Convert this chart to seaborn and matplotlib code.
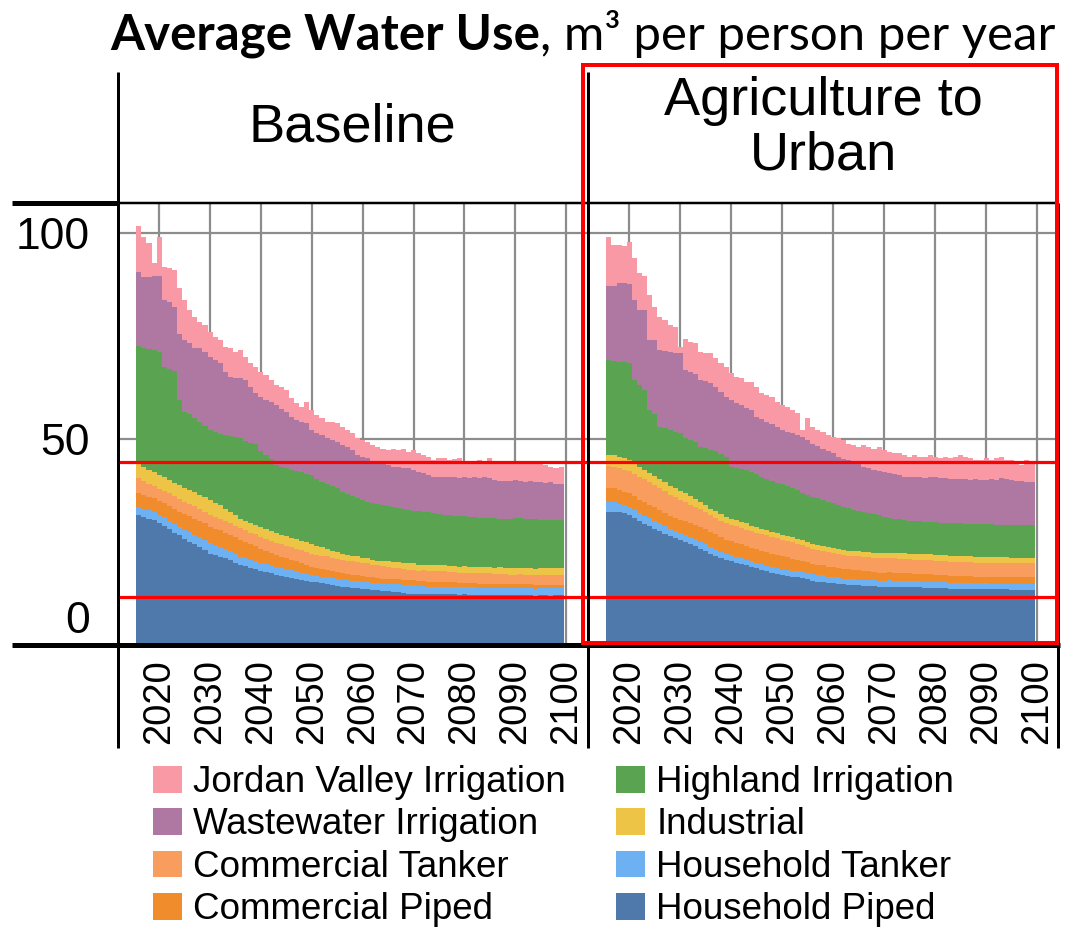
import numpy as np
import pandas as pd
import matplotlib
matplotlib.use("Agg")
import matplotlib.pyplot as plt
import matplotlib.transforms as mtransforms
from matplotlib.patches import Patch, Rectangle
from matplotlib.lines import Line2D
import seaborn as sns

sns.set_theme(style="white")
plt.rcParams['font.family'] = ['Liberation Sans', 'DejaVu Sans']
plt.rcParams['text.color'] = 'black'
plt.rcParams['axes.labelcolor'] = 'black'
plt.rcParams['xtick.color'] = 'black'
plt.rcParams['ytick.color'] = 'black'

# ---------------- data ----------------
years = list(range(2016, 2100))

series_names = ["Household Piped", "Household Tanker", "Commercial Piped",
                "Commercial Tanker", "Industrial", "Highland Irrigation",
                "Wastewater Irrigation", "Jordan Valley Irrigation"]
legend_order = ["Jordan Valley Irrigation", "Wastewater Irrigation",
                "Commercial Tanker", "Commercial Piped",
                "Highland Irrigation", "Industrial",
                "Household Tanker", "Household Piped"]
colors = {
    "Household Piped": "#4E79AA",
    "Household Tanker": "#6EB1F2",
    "Commercial Piped": "#F08C2C",
    "Commercial Tanker": "#F99D5E",
    "Industrial": "#EEC447",
    "Highland Irrigation": "#5AA350",
    "Wastewater Irrigation": "#AE78A2",
    "Jordan Valley Irrigation": "#F999A6",
}
panel_titles = ["Baseline", "Agriculture to\nUrban"]
x_ticks = list(range(2020, 2101, 10))
y_ticks = [0, 50, 100]
red_levels = [44.4, 11.7]

# Baseline scenario (m3 per person per year)
base_household_piped = [
    31.6, 31.0, 30.6, 30.3, 29.6, 28.9, 28.2, 27.3, 26.6, 25.8,
    25.1, 24.4, 23.7, 23.0, 22.2, 21.8, 21.4, 21.0, 20.6, 20.0,
    19.4, 19.1, 18.7, 18.4, 18.0, 17.7, 17.4, 17.0, 16.8, 16.5,
    16.3, 16.1, 15.8, 15.6, 15.4, 15.2, 15.0, 14.8, 14.6, 14.4,
    14.2, 14.1, 13.9, 13.8, 13.6, 13.5, 13.4, 13.3, 13.1, 13.0,
    12.9, 12.8, 12.6, 12.5, 12.5, 12.4, 12.4, 12.3, 12.4, 12.3,
    12.4, 12.3, 12.3, 12.2, 12.3, 12.2, 12.2, 12.2, 12.1, 12.2,
    12.1, 12.2, 12.1, 12.1, 12.1, 12.2, 12.1, 12.1, 12.0, 12.1,
    12.1, 12.0, 12.1, 12.1]
base_household_tanker = [
    2.0, 2.1, 2.1, 2.1, 2.0, 2.1, 2.0, 2.0, 2.1, 2.2,
    2.3, 2.4, 2.4, 2.5, 2.5, 2.4, 2.3, 2.2, 2.1, 2.1,
    2.0, 2.0, 2.0, 2.1, 2.0, 2.0, 2.0, 2.0, 1.9, 1.9,
    1.8, 1.8, 1.7, 1.7, 1.6, 1.6, 1.6, 1.7, 1.6, 1.6,
    1.6, 1.6, 1.7, 1.7, 1.7, 1.8, 1.7, 1.7, 1.8, 1.9,
    1.9, 2.0, 2.0, 2.1, 2.0, 1.9, 1.9, 1.9, 1.8, 1.9,
    1.8, 1.8, 1.8, 1.8, 1.7, 1.8, 1.8, 1.7, 1.8, 1.7,
    1.7, 1.7, 1.8, 1.7, 1.7, 1.7, 1.7, 1.8, 1.7, 1.7,
    1.7, 1.8, 1.7, 1.7]
base_commercial_piped = [
    3.2, 3.2, 3.2, 3.2, 3.3, 3.4, 3.5, 3.7, 3.7, 3.8,
    3.8, 3.9, 3.9, 4.0, 4.0, 4.0, 4.1, 4.1, 4.1, 4.1,
    4.1, 3.9, 3.7, 3.5, 3.3, 3.1, 2.9, 2.8, 2.7, 2.6,
    2.5, 2.4, 2.3, 2.1, 2.0, 1.9, 1.9, 1.8, 1.7, 1.7,
    1.6, 1.5, 1.5, 1.4, 1.4, 1.3, 1.3, 1.2, 1.2, 1.2,
    1.2, 1.2, 1.2, 1.2, 1.2, 1.2, 1.2, 1.2, 1.2, 1.2,
    1.2, 1.1, 1.1, 1.1, 1.1, 1.0, 1.0, 1.0, 1.0, 1.0,
    1.0, 0.9, 0.9, 0.9, 0.9, 0.9, 0.9, 0.8, 0.8, 0.8,
    0.8, 0.8, 0.8, 0.8]
base_commercial_tanker = [
    3.7, 3.5, 3.2, 3.0, 3.0, 3.1, 3.2, 3.2, 3.1, 3.0,
    3.0, 3.0, 2.9, 2.9, 2.9, 2.9, 2.9, 2.8, 2.8, 2.8,
    2.8, 2.8, 2.8, 2.9, 2.9, 2.9, 2.9, 2.9, 3.0, 3.0,
    3.1, 3.1, 3.2, 3.2, 3.2, 3.2, 3.2, 3.2, 3.2, 3.2,
    3.2, 3.2, 3.2, 3.2, 3.2, 3.2, 3.1, 3.1, 3.0, 2.9,
    2.8, 2.7, 2.6, 2.5, 2.5, 2.5, 2.6, 2.6, 2.6, 2.6,
    2.6, 2.6, 2.6, 2.5, 2.5, 2.5, 2.5, 2.5, 2.5, 2.5,
    2.5, 2.5, 2.4, 2.4, 2.4, 2.4, 2.4, 2.4, 2.4, 2.4,
    2.4, 2.4, 2.4, 2.4]
base_industrial = [
    3.6, 3.5, 3.4, 3.3, 3.3, 3.2, 3.2, 3.2, 3.3, 3.4,
    3.4, 3.5, 3.5, 3.6, 3.6, 3.4, 3.2, 3.0, 2.8, 2.5,
    2.2, 2.2, 2.3, 2.3, 2.4, 2.4, 2.4, 2.4, 2.4, 2.4,
    2.3, 2.3, 2.3, 2.3, 2.3, 2.1, 2.0, 1.9, 1.8, 1.7,
    1.6, 1.5, 1.4, 1.4, 1.3, 1.3, 1.2, 1.2, 1.3, 1.4,
    1.4, 1.5, 1.5, 1.6, 1.6, 1.5, 1.4, 1.4, 1.3, 1.3,
    1.3, 1.4, 1.4, 1.4, 1.5, 1.5, 1.5, 1.5, 1.5, 1.6,
    1.5, 1.6, 1.6, 1.5, 1.6, 1.6, 1.6, 1.6, 1.6, 1.6,
    1.6, 1.6, 1.6, 1.6]
base_highland = [
    28.5, 28.9, 29.3, 29.6, 30.0, 26.8, 26.9, 27.1, 20.7, 18.3,
    18.4, 18.0, 17.8, 17.2, 17.0, 17.1, 17.3, 17.9, 18.4, 19.0,
    19.7, 19.5, 19.5, 19.6, 18.6, 18.1, 17.6, 16.7, 16.5, 16.6,
    16.6, 16.5, 16.6, 16.6, 16.7, 16.4, 15.9, 15.6, 15.7, 15.4,
    15.0, 14.7, 14.5, 14.3, 14.0, 13.7, 13.8, 13.7, 13.6, 13.3,
    13.2, 13.0, 13.1, 12.9, 12.8, 13.0, 12.9, 12.8, 12.7, 12.5,
    12.3, 12.3, 12.2, 12.3, 12.1, 12.0, 12.0, 12.0, 12.0, 11.8,
    12.0, 11.8, 11.9, 12.1, 12.2, 12.0, 12.0, 11.9, 12.0, 11.8,
    11.8, 11.7, 11.7, 11.8]
base_wastewater = [
    18.0, 17.2, 17.6, 18.1, 18.4, 16.2, 16.3, 15.6, 16.1, 17.5,
    17.2, 16.8, 17.8, 18.0, 17.8, 17.6, 17.2, 15.3, 14.3, 14.2,
    14.5, 14.8, 13.7, 12.3, 13.1, 13.3, 13.9, 14.5, 14.1, 13.6,
    12.8, 12.4, 12.3, 12.3, 11.0, 11.0, 11.4, 11.2, 11.2, 11.4,
    11.3, 11.5, 11.1, 10.3, 10.5, 10.5, 10.0, 9.9, 10.1, 10.0,
    9.9, 10.1, 9.9, 10.1, 9.9, 9.6, 9.3, 9.1, 8.9, 9.1,
    9.3, 9.2, 9.3, 9.2, 9.5, 9.5, 9.7, 9.6, 9.8, 9.7,
    9.2, 9.1, 9.1, 9.1, 9.1, 9.0, 8.9, 9.2, 9.1, 9.2,
    9.0, 9.3, 8.9, 8.8]
base_jordan_valley = [
    11.1, 9.6, 8.3, 3.2, 9.5, 8.1, 8.1, 8.9, 11.0, 9.7,
    8.1, 7.7, 6.5, 6.5, 6.1, 5.6, 5.6, 6.1, 6.9, 6.5,
    6.9, 5.7, 5.7, 6.5, 6.0, 6.0, 5.2, 4.8, 5.3, 5.3,
    4.5, 4.1, 3.6, 5.3, 4.8, 4.4, 4.0, 4.0, 4.4, 4.4,
    4.5, 4.1, 4.1, 4.1, 4.1, 4.1, 4.0, 4.0, 3.6, 3.6,
    4.4, 4.0, 4.8, 4.0, 4.8, 4.4, 4.4, 4.4, 4.0, 4.4,
    4.4, 4.2, 4.4, 4.8, 3.8, 4.0, 3.8, 4.4, 3.8, 4.8,
    4.5, 4.3, 4.3, 4.7, 4.1, 4.3, 4.9, 4.7, 4.5, 4.5,
    4.3, 3.7, 3.7, 4.1]

# Agriculture to Urban scenario
ag_household_piped = [
    32.4, 32.4, 32.2, 32.0, 31.6, 30.8, 30.0, 29.4, 28.8, 28.2,
    27.6, 27.0, 26.4, 25.9, 25.5, 25.0, 24.5, 24.0, 23.4, 22.9,
    22.2, 21.6, 21.0, 20.6, 20.3, 20.0, 19.7, 19.4, 19.0, 18.6,
    18.3, 17.9, 17.6, 17.3, 17.0, 16.8, 16.6, 16.4, 16.2, 16.0,
    15.6, 15.4, 15.3, 15.1, 15.0, 14.9, 14.7, 14.6, 14.6, 14.5,
    14.4, 14.4, 14.3, 14.2, 14.2, 14.2, 14.1, 14.1, 14.1, 14.0,
    14.0, 14.0, 13.9, 13.9, 13.8, 13.8, 13.8, 13.7, 13.7, 13.7,
    13.6, 13.6, 13.6, 13.7, 13.6, 13.5, 13.5, 13.5, 13.5, 13.4,
    13.4, 13.4, 13.4, 13.4]
ag_household_tanker = [
    2.2, 2.2, 2.1, 2.0, 2.0, 2.0, 2.0, 2.0, 2.0, 2.0,
    1.9, 1.9, 1.8, 1.8, 1.7, 1.7, 1.7, 1.7, 1.7, 1.7,
    1.7, 1.7, 1.6, 1.5, 1.5, 1.4, 1.4, 1.3, 1.3, 1.3,
    1.3, 1.3, 1.3, 1.3, 1.3, 1.4, 1.4, 1.5, 1.5, 1.6,
    1.6, 1.6, 1.6, 1.5, 1.5, 1.5, 1.4, 1.4, 1.4, 1.4,
    1.4, 1.4, 1.4, 1.4, 1.4, 1.5, 1.5, 1.5, 1.5, 1.5,
    1.5, 1.5, 1.5, 1.5, 1.5, 1.5, 1.5, 1.4, 1.4, 1.4,
    1.4, 1.4, 1.4, 1.3, 1.4, 1.4, 1.4, 1.4, 1.4, 1.4,
    1.4, 1.4, 1.4, 1.4]
ag_commercial_piped = [
    3.5, 3.4, 3.3, 3.2, 3.2, 3.3, 3.3, 3.3, 3.3, 3.2,
    3.2, 3.2, 3.2, 3.2, 3.2, 3.3, 3.4, 3.5, 3.6, 3.6,
    3.6, 3.6, 3.5, 3.5, 3.4, 3.4, 3.3, 3.3, 3.3, 3.3,
    3.3, 3.3, 3.2, 3.2, 3.2, 3.1, 2.9, 2.8, 2.7, 2.5,
    2.4, 2.4, 2.4, 2.4, 2.4, 2.4, 2.4, 2.4, 2.3, 2.3,
    2.2, 2.2, 2.1, 2.0, 2.0, 2.0, 2.0, 1.9, 1.9, 1.9,
    1.8, 1.8, 1.8, 1.8, 1.8, 1.7, 1.7, 1.7, 1.7, 1.7,
    1.7, 1.7, 1.6, 1.6, 1.6, 1.6, 1.6, 1.6, 1.6, 1.6,
    1.6, 1.6, 1.6, 1.6]
ag_commercial_tanker = [
    5.3, 5.3, 5.3, 5.3, 5.4, 5.5, 5.5, 5.6, 5.5, 5.4,
    5.3, 5.2, 5.1, 5.0, 4.9, 4.7, 4.5, 4.3, 4.2, 4.1,
    4.0, 4.0, 4.0, 4.0, 4.0, 4.0, 4.0, 4.0, 4.0, 4.0,
    4.0, 4.1, 4.1, 4.1, 4.1, 4.0, 4.0, 3.9, 3.9, 3.8,
    3.7, 3.7, 3.6, 3.6, 3.5, 3.4, 3.4, 3.3, 3.3, 3.3,
    3.3, 3.3, 3.3, 3.4, 3.4, 3.4, 3.4, 3.4, 3.4, 3.4,
    3.4, 3.4, 3.4, 3.4, 3.4, 3.4, 3.4, 3.4, 3.4, 3.4,
    3.4, 3.4, 3.4, 3.4, 3.4, 3.4, 3.4, 3.4, 3.4, 3.4,
    3.4, 3.4, 3.4, 3.4]
ag_industrial = [
    2.7, 2.8, 2.8, 2.8, 2.6, 2.4, 2.3, 2.2, 2.2, 2.2,
    2.2, 2.2, 2.2, 2.2, 2.2, 2.1, 2.0, 1.9, 1.8, 1.7,
    1.6, 1.6, 1.6, 1.5, 1.5, 1.5, 1.5, 1.5, 1.4, 1.4,
    1.3, 1.3, 1.2, 1.2, 1.2, 1.2, 1.2, 1.1, 1.1, 1.1,
    1.1, 1.1, 1.1, 1.1, 1.2, 1.2, 1.2, 1.2, 1.2, 1.3,
    1.3, 1.3, 1.3, 1.3, 1.3, 1.3, 1.3, 1.4, 1.4, 1.4,
    1.4, 1.4, 1.4, 1.4, 1.4, 1.4, 1.4, 1.4, 1.4, 1.4,
    1.4, 1.4, 1.4, 1.4, 1.4, 1.4, 1.4, 1.4, 1.4, 1.4,
    1.4, 1.4, 1.4, 1.4]
ag_highland = [
    23.1, 22.9, 23.1, 23.3, 23.6, 20.3, 19.9, 19.4, 15.2, 15.0,
    12.8, 13.1, 13.5, 13.7, 13.9, 13.4, 13.7, 13.8, 13.4, 13.8,
    14.3, 14.5, 14.7, 14.6, 12.6, 12.7, 12.8, 12.9, 13.0, 12.8,
    12.6, 12.3, 12.4, 12.3, 12.4, 12.1, 11.9, 11.9, 11.6, 11.4,
    11.6, 11.4, 11.2, 11.1, 10.8, 10.6, 10.5, 10.3, 10.0, 9.8,
    9.7, 9.4, 9.4, 9.3, 8.8, 8.5, 8.4, 8.2, 8.1, 8.0,
    8.0, 7.9, 7.9, 7.9, 7.9, 7.9, 7.8, 8.0, 7.9, 7.9,
    7.9, 7.9, 8.0, 7.9, 7.9, 8.0, 7.9, 7.9, 7.9, 7.9,
    7.9, 7.9, 7.9, 7.9]
ag_wastewater = [
    17.9, 18.1, 19.0, 19.2, 19.2, 19.4, 18.3, 19.4, 17.0, 18.0,
    18.6, 18.8, 19.0, 19.2, 19.4, 16.5, 16.5, 16.7, 16.2, 16.2,
    16.1, 15.7, 15.1, 14.5, 16.2, 15.7, 15.5, 15.2, 15.0, 14.0,
    14.0, 14.0, 13.8, 13.6, 13.0, 13.2, 13.4, 13.4, 13.4, 13.4,
    12.9, 12.7, 12.5, 12.3, 12.1, 11.7, 11.6, 11.6, 11.6, 11.5,
    11.0, 11.0, 10.8, 10.7, 10.9, 10.8, 10.8, 10.7, 10.5, 10.7,
    10.6, 10.7, 10.6, 11.0, 10.9, 10.8, 10.9, 10.8, 10.7, 10.7,
    10.8, 10.6, 10.8, 10.7, 10.7, 10.9, 10.8, 11.3, 11.0, 10.9,
    10.7, 10.7, 10.5, 10.5]
ag_jordan_valley = [
    12.0, 10.0, 9.3, 9.1, 10.3, 10.2, 8.9, 8.2, 11.0, 8.1,
    8.1, 7.5, 6.5, 6.3, 1.6, 7.7, 7.3, 7.3, 6.9, 7.0,
    7.3, 6.9, 6.9, 7.4, 6.5, 6.4, 6.5, 6.3, 6.9, 7.3,
    6.3, 6.5, 6.7, 6.1, 6.1, 6.0, 5.6, 5.2, 1.8, 5.2,
    4.1, 3.9, 4.1, 3.9, 4.1, 4.5, 4.6, 4.1, 4.1, 4.0,
    5.2, 5.1, 5.1, 5.8, 5.3, 5.2, 5.0, 5.3, 5.2, 4.8,
    5.4, 5.0, 5.2, 5.2, 5.0, 4.8, 5.2, 4.9, 5.5, 5.9,
    5.5, 5.3, 4.7, 4.9, 5.3, 4.7, 5.3, 5.2, 4.7, 4.9,
    4.7, 3.9, 5.3, 4.5]

baseline = [base_household_piped, base_household_tanker, base_commercial_piped,
            base_commercial_tanker, base_industrial, base_highland,
            base_wastewater, base_jordan_valley]
ag_urban = [ag_household_piped, ag_household_tanker, ag_commercial_piped,
            ag_commercial_tanker, ag_industrial, ag_highland,
            ag_wastewater, ag_jordan_valley]
for arr in baseline + ag_urban:
    assert len(arr) == len(years)

# ---------------- figure ----------------
W, H, DPI = 1073, 933, 100
fig = plt.figure(figsize=(W / DPI, H / DPI), dpi=DPI)
fig.patch.set_facecolor("white")


def fx(px):
    return px / W


def fy(py):
    return 1 - py / H


def fline(x0, y0, x1, y1, lw_px, color="black", z=5):
    fig.add_artist(Line2D([fx(x0), fx(x1)], [fy(y0), fy(y1)],
                          transform=fig.transFigure, color=color,
                          lw=lw_px * 0.72, solid_capstyle="butt", zorder=z))


top_px, bot_px = 203, 645
panels = [(118, 587), (588, 1058)]
axes = []
for (x0, x1), comps, title in zip(panels, [baseline, ag_urban], panel_titles):
    ax = fig.add_axes([fx(x0), fy(bot_px), (x1 - x0) / W, (bot_px - top_px) / H])
    axes.append(ax)
    df = pd.DataFrame({"year": years})
    for name, vals in zip(series_names, comps):
        df[name] = vals
    cum = df[series_names].cumsum(axis=1)
    for name in reversed(series_names):
        sns.barplot(x=df["year"], y=cum[name], color=colors[name],
                    native_scale=True, width=1.0, linewidth=0,
                    errorbar=None, saturation=1, ax=ax, zorder=2)
    for lev in red_levels:
        ax.axhline(lev, color="#FF0000", lw=2.3, zorder=4)
    ax.set_xlim(2011.9, 2104.1)
    ax.set_ylim(0, 107.3)
    ax.set_xticks(x_ticks)
    ax.set_xticklabels([str(t) for t in x_ticks], rotation=90, fontsize=27.5)
    ax.set_yticks(y_ticks)
    ax.set_axisbelow(True)
    ax.grid(True, color="#8c8c8c", lw=1.6)
    for s in ax.spines.values():
        s.set_visible(False)
    ax.set_xlabel("")
    ax.set_ylabel("")
    ax.tick_params(axis="x", length=7, width=1, color="#c8c8c8", pad=3,
                   labelcolor="black")
    ax.set_facecolor("white")
    fig.text(fx((x0 + x1) / 2), fy(128), title, ha="center", va="center",
             fontsize=39, linespacing=1.12, color="black",
             family=["Liberation Sans", "DejaVu Sans"])

# y axis labels only on left panel
axL, axR = axes
axL.set_yticklabels([str(t) for t in y_ticks], fontsize=32)
axL.tick_params(axis="y", length=12, width=1, color="#b0b0b0", pad=8,
                labelcolor="black")
lbl0 = axL.yaxis.get_major_ticks()[0].label1
lbl0.set_transform(lbl0.get_transform() +
                   mtransforms.ScaledTranslation(0, 28 / DPI, fig.dpi_scale_trans))
axR.tick_params(axis="y", length=0, labelleft=False)

# structural lines
fline(12, 645, 1060, 645, 5)
fline(12, 203, 118, 203, 5)
fline(118, 203, 1058, 203, 2.5)
fline(117.5, 72, 117.5, 748, 3)
fline(587.5, 72, 587.5, 748, 3)
fline(1058, 203, 1058, 748, 3)

# red highlight rectangle
fig.add_artist(Rectangle((fx(583), fy(643)), (1057 - 583) / W, (643 - 65) / H,
                         transform=fig.transFigure, fill=False,
                         edgecolor="#FF0000", lw=4 * 0.72, zorder=6))

# title (bold + regular)
title_font = ["Lato", "DejaVu Sans"]
fs = 36
t1 = fig.text(fx(110), fy(50), "Average Water Use", fontsize=fs, color="black",
              fontweight="bold", family=title_font, va="baseline", ha="left")
t2 = fig.text(0, fy(50), ", m\u00b3 per person per year", fontsize=fs,
              color="black", family=title_font, va="baseline", ha="left")
renderer = fig.canvas.get_renderer()
for _ in range(2):
    w1 = t1.get_window_extent(renderer).width
    w2 = t2.get_window_extent(renderer).width
    fs = fs * 945 / (w1 + w2)
    t1.set_fontsize(fs)
    t2.set_fontsize(fs)
w1 = t1.get_window_extent(renderer).width
t2.set_x(fx(110 + w1))

# legend
handles = [Patch(facecolor=colors[n], edgecolor="none", label=n) for n in legend_order]
leg = fig.legend(handles=handles, ncol=2, loc="upper left",
                 bbox_to_anchor=(fx(153), fy(765)), frameon=False, fontsize=26.5,
                 handlelength=0.78, handleheight=0.74, handletextpad=0.32,
                 columnspacing=1.35, labelspacing=0.2, borderpad=0,
                 borderaxespad=0)
for t in leg.get_texts():
    t.set_color("black")

fig.savefig("out.png", dpi=DPI, facecolor="white")
